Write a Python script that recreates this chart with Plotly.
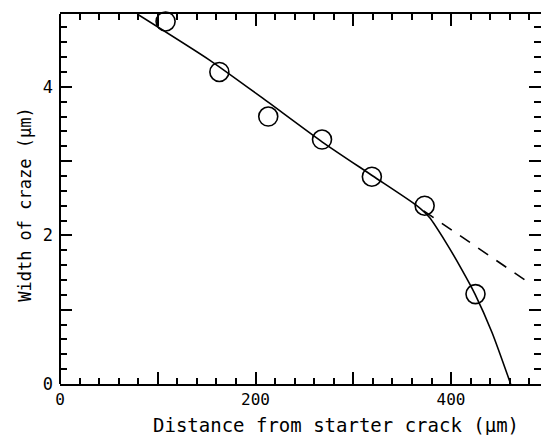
import plotly.graph_objects as go

# Measured points (circles)
dist_pts = [108, 163, 213, 268, 319, 373, 425]
width_pts = [4.88, 4.20, 3.60, 3.29, 2.79, 2.40, 1.21]

# Solid fitted curve
dist_fit = [79, 153, 207, 268, 320, 364, 378, 395, 411, 424.5, 442, 461]
width_fit = [4.98, 4.36, 3.85, 3.26, 2.80, 2.41, 2.24, 1.90, 1.54, 1.21, 0.69, 0.0]

# Dashed extrapolation
dist_ext = [372, 480]
width_ext = [2.33, 1.36]

x_ticks = [0, 100, 200, 300, 400]
x_labels = ["0", "", "200", "", "400"]
y_ticks = [0, 1, 2, 3, 4, 5]
y_labels = ["0", "", "2", "", "4", ""]

x_title = "Distance from starter crack (μm)"
y_title = "Width of craze (μm)"

mono = "DejaVu Sans Mono"

fig = go.Figure()
fig.add_trace(go.Scatter(x=dist_fit, y=width_fit, mode="lines",
                         line=dict(color="black", width=1.6, shape="spline", smoothing=0.6),
                         showlegend=False, cliponaxis=False))
fig.add_trace(go.Scatter(x=dist_ext, y=width_ext, mode="lines",
                         line=dict(color="black", width=1.6, dash="12px,10px"),
                         showlegend=False))
fig.add_trace(go.Scatter(x=dist_pts, y=width_pts, mode="markers",
                         marker=dict(symbol="circle-open", size=19, color="black",
                                     line=dict(width=1.6, color="black")),
                         showlegend=False, cliponaxis=False))

fig.update_layout(
    width=541, height=435,
    margin=dict(l=60, r=0, t=14, b=51),
    paper_bgcolor="white", plot_bgcolor="white",
    font=dict(family=mono, size=17, color="black"),
    xaxis=dict(range=[0, 492], tickvals=x_ticks, ticktext=x_labels,
               ticks="inside", ticklen=12, tickwidth=1.5, tickcolor="black",
               minor=dict(dtick=20, ticks="inside", ticklen=6, tickwidth=1.5, tickcolor="black"),
               showline=True, linewidth=2, linecolor="black", mirror="ticks",
               showgrid=False, zeroline=False, ticklabelstandoff=0,
               tickfont=dict(family=mono, size=16)),
    yaxis=dict(range=[0, 4.98], tickvals=y_ticks, ticktext=y_labels,
               ticks="inside", ticklen=12, tickwidth=1.5, tickcolor="black",
               minor=dict(dtick=0.2, ticks="inside", ticklen=7, tickwidth=1.5, tickcolor="black"),
               showline=False, mirror="ticks",
               showgrid=False, zeroline=False, ticklabelstandoff=6,
               tickfont=dict(family=mono, size=17)),
    annotations=[
        dict(text=x_title, xref="paper", yref="paper", x=0.574, y=-0.112,
             xanchor="center", yanchor="middle", showarrow=False, borderpad=0,
             font=dict(family=mono, size=19)),
        dict(text=y_title, xref="paper", yref="paper", x=-0.073, y=0.484,
             xanchor="center", yanchor="middle", showarrow=False, textangle=-90,
             borderpad=0, font=dict(family=mono, size=17)),
    ],
)
fig.add_shape(type="line", xref="paper", yref="paper", x0=0, x1=0, y0=0, y1=1,
              line=dict(color="black", width=2))
fig.write_html("out.html")
